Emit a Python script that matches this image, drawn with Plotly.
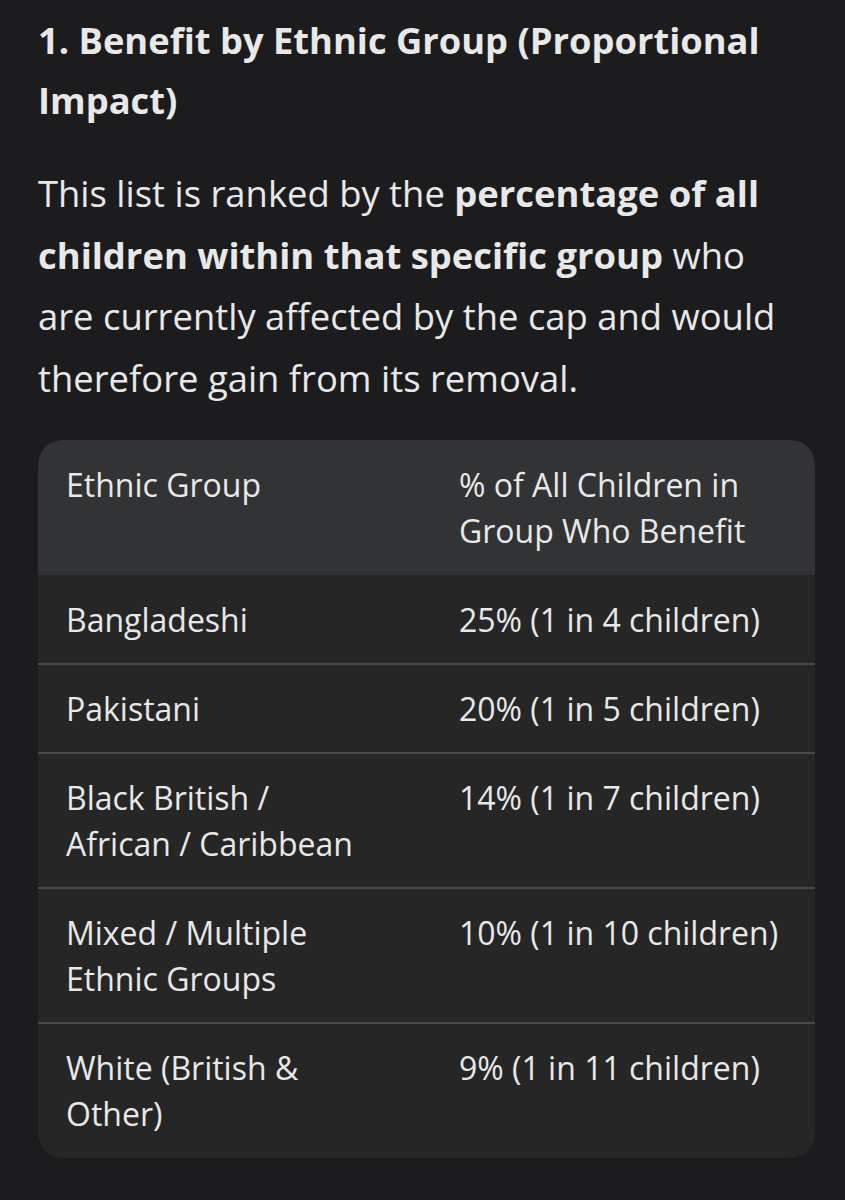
import plotly.graph_objects as go

# text content
title_lines = ["<b>1. Benefit by Ethnic Group (Proportional</b>", "<b>Impact)</b>"]
intro_lines = [
    "This list is ranked by the <b>percentage of all</b>",
    "<b>children within that specific group</b> who",
    "are currently affected by the cap and would",
    "therefore gain from its removal.",
]

header = [["Ethnic Group"], ["% of All Children in", "Group Who Benefit"]]
groups = [
    ["Bangladeshi"],
    ["Pakistani"],
    ["Black British /", "African / Caribbean"],
    ["Mixed / Multiple", "Ethnic Groups"],
    ["White (British &", "Other)"],
]
shares = [
    ["25% (1 in 4 children)"],
    ["20% (1 in 5 children)"],
    ["14% (1 in 7 children)"],
    ["10% (1 in 10 children)"],
    ["9% (1 in 11 children)"],
]

W, H = 845, 1200
BG = "#1c1c1e"
HEAD_BG = "#323335"
BODY_BG = "#262626"
SEP = "#48494b"
TXT = "#e8e8e8"
FONT = "Open Sans"

left, right = 38, 815
top = 440
col_x = [66, 459]
pad_top, line_h, pad_bot = 22, 46, 21
r = 28

fig = go.Figure()

# title + intro
ann = []
for i, t in enumerate(title_lines):
    ann.append(dict(x=36, y=40 + 60 * i, text=t, xanchor="left", yanchor="middle",
                    showarrow=False, font=dict(size=36.3, color=TXT, family=FONT)))
for i, t in enumerate(intro_lines):
    ann.append(dict(x=36, y=193 + 61.5 * i, text=t, xanchor="left", yanchor="middle",
                    showarrow=False, font=dict(size=36.4, color=TXT, family=FONT)))

# row geometry
rows = [header] + [[g, s] for g, s in zip(groups, shares)]
heights = [pad_top + pad_bot + line_h * max(len(c) for c in row) for row in rows]
tops = [top]
for h in heights:
    tops.append(tops[-1] + h)
bottom = tops[-1]

shapes = []
# whole box, rounded
shapes.append(dict(
    type="path", xref="x", yref="y", layer="below", line=dict(width=0), fillcolor=BODY_BG,
    path=(f"M {left+r},{top} L {right-r},{top} Q {right},{top} {right},{top+r} "
          f"L {right},{bottom-r} Q {right},{bottom} {right-r},{bottom} "
          f"L {left+r},{bottom} Q {left},{bottom} {left},{bottom-r} "
          f"L {left},{top+r} Q {left},{top} {left+r},{top} Z")))
# header band
hb = tops[1]
shapes.append(dict(
    type="path", xref="x", yref="y", layer="below", line=dict(width=0), fillcolor=HEAD_BG,
    path=(f"M {left+r},{top} L {right-r},{top} Q {right},{top} {right},{top+r} "
          f"L {right},{hb} L {left},{hb} L {left},{top+r} Q {left},{top} {left+r},{top} Z")))
# separators between body rows
for y in tops[2:-1]:
    shapes.append(dict(type="line", xref="x", yref="y", layer="below",
                       x0=left, x1=right, y0=y, y1=y, line=dict(color=SEP, width=2)))

# cell text
for ri, row in enumerate(rows):
    for ci, cell in enumerate(row):
        ys = [tops[ri] + pad_top + line_h / 2 + 4 + line_h * k for k in range(len(cell))]
        fig.add_trace(go.Scatter(
            x=[col_x[ci]] * len(cell), y=ys, text=cell, mode="text",
            textposition="middle right", hoverinfo="skip",
            textfont=dict(size=32, color=TXT, family=FONT), showlegend=False))

fig.update_layout(
    width=W, height=H, margin=dict(l=0, r=0, t=0, b=0),
    paper_bgcolor=BG, plot_bgcolor=BG,
    shapes=shapes, annotations=ann,
    xaxis=dict(range=[0, W], visible=False, fixedrange=True),
    yaxis=dict(range=[H, 0], visible=False, fixedrange=True),
)

fig.write_html("out.html", config={"displayModeBar": False},
               post_script="document.body.style.margin='0';"
                           "document.body.style.background='#1c1c1e';")
